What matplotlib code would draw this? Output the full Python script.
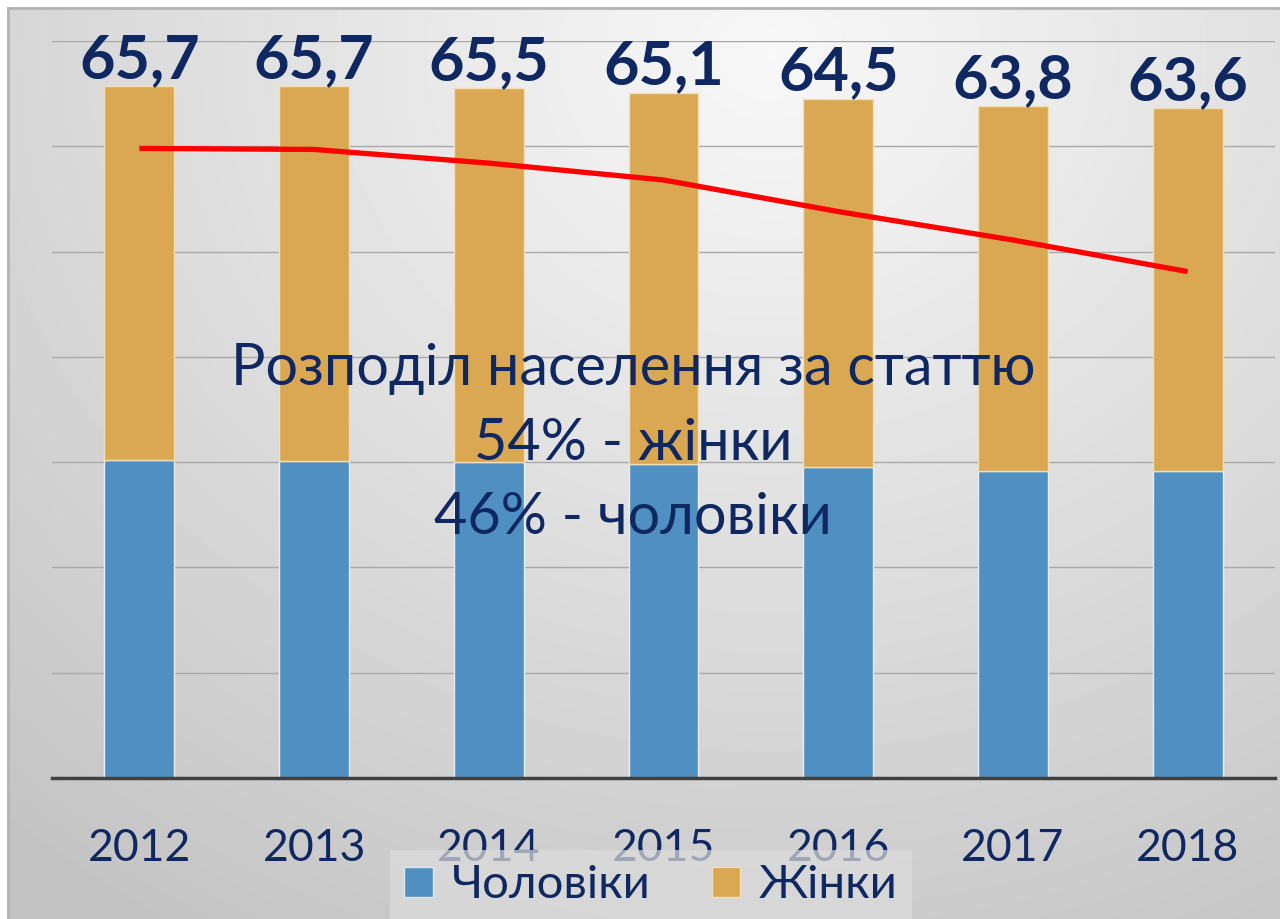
import numpy as np
import matplotlib
matplotlib.use('Agg')
import matplotlib.pyplot as plt
from matplotlib.patches import Patch

years = ['2012', '2013', '2014', '2015', '2016', '2017', '2018']
totals = [65.7, 65.7, 65.5, 65.1, 64.5, 63.8, 63.6]
men = [30.2, 30.1, 30.0, 29.8, 29.5, 29.2, 29.2]
women = [t - m for t, m in zip(totals, men)]
trend = [59.8, 59.7, 58.4, 56.8, 53.8, 51.1, 48.1]

navy = '#0f2862'
blue = '#4f8fc1'
orange = '#daa852'

plt.rcParams['font.family'] = ['Lato', 'DejaVu Sans']

fig = plt.figure(figsize=(12.8, 9.19), dpi=100)

# gradient background
bg = fig.add_axes([8 / 1280, 0, 1 - 8 / 1280, 1 - 8 / 919])
yy, xx = np.mgrid[0:1:300j, 0:1:400j]
d = np.sqrt(((xx - 0.6) * 1.1) ** 2 + ((yy - 0.05) * 0.9) ** 2)
shade = np.clip(0.97 - 0.2 * d, 0.76, 0.97)
bg.imshow(shade, cmap='gray', vmin=0, vmax=1, aspect='auto',
          extent=(0, 1, 1, 0), interpolation='bicubic')
bg.set_xticks([])
bg.set_yticks([])
for s in ['right', 'bottom']:
    bg.spines[s].set_visible(False)
for s in ['top', 'left']:
    bg.spines[s].set_color('#b4b4b4')
    bg.spines[s].set_linewidth(2)

ax = fig.add_axes([52 / 1280, 1 - 778 / 919, (1275 - 52) / 1280, 737 / 919])
ax.patch.set_alpha(0)
x = np.arange(len(years))

b1 = ax.bar(x, men, width=0.4, color=blue, edgecolor='#e8eef5', linewidth=1, zorder=3)
b2 = ax.bar(x, women, width=0.4, bottom=men, color=orange, edgecolor='#f2dfb8',
            linewidth=1, zorder=3)
ax.plot(x, trend, color='#ff0000', linewidth=3.8, zorder=4, solid_capstyle='butt')

for xi, t in zip(x, totals):
    ax.annotate(f'{t:.1f}'.replace('.', ','), (xi, t), xytext=(0, 6),
                textcoords='offset points', ha='center', va='baseline',
                fontsize=44, fontweight='bold', color=navy, clip_on=False, zorder=5)

ax.set_xlim(-0.5, 6.5)
ax.set_ylim(0, 70)
ax.set_yticks(np.arange(10, 71, 10))
ax.set_yticklabels([])
ax.tick_params(axis='y', length=0)
ax.grid(axis='y', color='#a8a8a8', linewidth=1, zorder=0)
ax.set_axisbelow(True)
ax.set_xticks(x)
ax.set_xticklabels(years, fontsize=32, color=navy)
ax.tick_params(axis='x', length=0, pad=36)
for s in ['top', 'right', 'left']:
    ax.spines[s].set_visible(False)
ax.spines['bottom'].set_color('#404040')
ax.spines['bottom'].set_linewidth(2.5)
ax.spines['bottom'].set_zorder(5)

fig.text(633 / 1280, 1 - 443 / 919,
         'Розподіл населення за статтю\n54% - жінки\n46% - чоловіки',
         ha='center', va='center', fontsize=41.5, color=navy, linespacing=1.5,
         zorder=10)

handles = [Patch(facecolor=blue, edgecolor='#dfe8f2', label='Чоловіки'),
           Patch(facecolor=orange, edgecolor='#f2dfb8', label='Жінки')]
leg = ax.legend(handles=handles, loc='upper center', ncol=2,
                bbox_to_anchor=(651 / 1280, 1 - 850 / 919),
                bbox_transform=fig.transFigure, fontsize=34, frameon=True,
                fancybox=False, facecolor='#dcdcdc', framealpha=0.7,
                edgecolor='none', handlelength=0.6, handleheight=0.6,
                handletextpad=0.4, columnspacing=1.3, borderpad=0.3,
                borderaxespad=0, labelcolor=navy)
leg.set_zorder(6)

fig.savefig('out.png', dpi=100)
